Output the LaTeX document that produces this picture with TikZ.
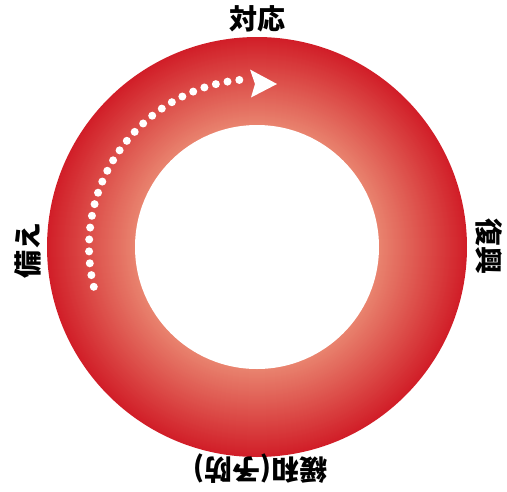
\documentclass[tikz,border=0pt]{standalone}
\usepackage{fontspec}
\usetikzlibrary{calc}
\newfontfamily\jpfont{Noto Sans CJK JP}
\definecolor{ringin}{HTML}{E9846F}
\definecolor{ringout}{HTML}{D11E28}
\tikzset{
    phase/.style={font=\jpfont\bfseries\fontsize{28}{28}\selectfont, inner sep=0pt},
}
\begin{document}
\begin{tikzpicture}[x=1pt,y=1pt]
    \useasboundingbox (0,0) rectangle (507,-491);
    \coordinate (C) at (257,-247);

    % ring, red outside to light inside (discs, largest first)
    \foreach \i in {88,...,0} {
        \pgfmathsetmacro\mix{100*\i/88}
        \fill[ringout!\mix!ringin] (C) circle[radius=122+\i];
    }
    \fill[white] (C) circle[radius=122];

    % dotted arc + arrow head
    \coordinate (start) at ($(C)+(193.7:168)$);
    \coordinate (tip) at (277,-84);
    \draw[white, line width=8pt, line cap=round, dash pattern=on 0pt off 11.93pt]
        (start) arc[start angle=193.7, end angle=95.6, radius=168];
    \fill[white] (tip) -- ++(-27,14.5) -- ++(5,-14.5) -- ++(-4,-13.5) -- cycle;

    % labels
    \node[phase] (taiou) at (257,-19) {対応};
    \node[phase, rotate=-90] (fukkou) at (489,-246) {復興};
    \node[phase, rotate=180] (kanwa) at (260,-469) {緩和(予防)};
    \node[phase, rotate=90] (sonae) at (28,-250) {備え};
\end{tikzpicture}
\end{document}
